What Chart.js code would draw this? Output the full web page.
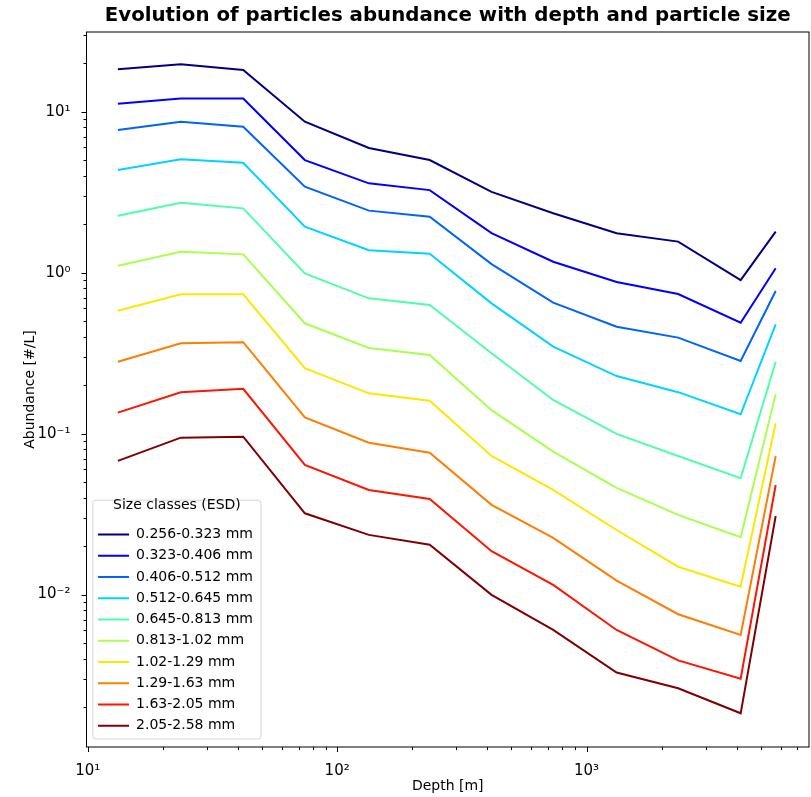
<!DOCTYPE html>
<html>
<head>
<meta charset="utf-8">
<script src="https://cdn.jsdelivr.net/npm/chart.js@4.4.1/dist/chart.umd.min.js"></script>
<style>
  html, body { margin: 0; padding: 0; background: #fff; }
  #wrap { width: 811px; height: 797px; position: relative; }
</style>
</head>
<body>
<div id="wrap"><canvas id="chart-abundance"></canvas></div>
<script>
// sampling depths [m]
const depth = [13.2, 23.6, 42.0, 74.2, 134, 235, 416, 735, 1320, 2330, 4150, 5735];

// abundance [#/L] per size class
const abund_0256_0323 = [18.4, 19.7, 18.2, 8.67, 5.95, 5.01, 3.18, 2.34, 1.76, 1.56, 0.90, 1.80];
const abund_0323_0406 = [11.2, 12.1, 12.1, 5.01, 3.59, 3.26, 1.76, 1.17, 0.876, 0.737, 0.489, 1.065];
const abund_0406_0512 = [7.70, 8.67, 8.07, 3.42, 2.43, 2.23, 1.13, 0.651, 0.462, 0.395, 0.283, 0.770];
const abund_0512_0645 = [4.34, 5.06, 4.82, 1.93, 1.38, 1.31, 0.645, 0.347, 0.228, 0.181, 0.132, 0.478];
const abund_0645_0813 = [2.26, 2.72, 2.51, 0.991, 0.693, 0.630, 0.316, 0.162, 0.0996, 0.0727, 0.0528, 0.280];
const abund_0813_102 = [1.105, 1.35, 1.30, 0.485, 0.341, 0.308, 0.140, 0.0773, 0.0460, 0.0313, 0.0227, 0.176];
const abund_102_129 = [0.581, 0.734, 0.734, 0.255, 0.178, 0.160, 0.0727, 0.0447, 0.0252, 0.0149, 0.0112, 0.116];
const abund_129_163 = [0.280, 0.364, 0.370, 0.126, 0.0879, 0.0762, 0.0361, 0.0225, 0.0122, 0.00755, 0.00562, 0.0727];
const abund_163_205 = [0.135, 0.181, 0.190, 0.0639, 0.0447, 0.0393, 0.0186, 0.0115, 0.00603, 0.00390, 0.00300, 0.0480];
const abund_205_258 = [0.0677, 0.0944, 0.0958, 0.0320, 0.0235, 0.0204, 0.00996, 0.00603, 0.00328, 0.00262, 0.00183, 0.0308];

const sizeClasses = [
  "0.256-0.323 mm", "0.323-0.406 mm", "0.406-0.512 mm", "0.512-0.645 mm", "0.645-0.813 mm",
  "0.813-1.02 mm", "1.02-1.29 mm", "1.29-1.63 mm", "1.63-2.05 mm", "2.05-2.58 mm",
];
const series = [
  abund_0256_0323, abund_0323_0406, abund_0406_0512, abund_0512_0645, abund_0645_0813,
  abund_0813_102, abund_102_129, abund_129_163, abund_163_205, abund_205_258,
];

// axis ticks
const xMajor = [10, 100, 1000];
const xMajorLabels = ["10\u00b9", "10\u00b2", "10\u00b3"];
const yMajor = [0.01, 0.1, 1, 10];
const yMajorLabels = ["10\u207b\u00b2", "10\u207b\u00b9", "10\u2070", "10\u00b9"];

// jet colormap, 10 samples
const jetColors = [
  "#000080", "#0000ff", "#0063ff", "#00d4ff", "#4effa9",
  "#a9ff4e", "#ffe600", "#ff7d00", "#ff1400", "#800000",
];

const FONT = "'DejaVu Sans', sans-serif";

/** 로그 축 눈금 (주 + 보조) */
function logTicks(scale, majors) {
  const out = [];
  const lo = Math.floor(Math.log10(scale.min));
  const hi = Math.ceil(Math.log10(scale.max));
  for (let e = lo; e <= hi; e++) {
    for (let k = 1; k <= 9; k++) {
      const v = k * Math.pow(10, e);
      if (v < scale.min || v > scale.max) continue;
      const isMajor = majors.some((m) => Math.abs(m - v) / m < 1e-6);
      out.push({ value: v, major: isMajor });
    }
  }
  scale.ticks = out;
}

function majorLabel(value, majors, labels) {
  const i = majors.findIndex((m) => Math.abs(m - value) / m < 1e-6);
  return i >= 0 ? labels[i] : "";
}

const axesPlugin = {
  id: "axesFrame",
  afterLayout(chart) {
    // 범례: 축 영역 좌하단 안쪽에 배치
    const lg = chart.legend;
    const a = chart.chartArea;
    if (!lg || !a) return;
    lg.left = a.left + 4.3;
    lg.right = lg.left + lg.width;
    lg.top = a.top;
    lg.bottom = a.bottom - 7;
  },
  beforeDraw(chart) {
    const lg = chart.legend;
    if (!lg || !lg.columnSizes || !lg.columnSizes.length) return;
    const ctx = chart.ctx;
    const colH = lg.columnSizes[0].height;
    const y0 = lg.bottom - colH;
    const titleH = lg._computeTitleHeight();
    const x1 = lg.left + 2;
    const x2 = lg.left + lg.width - 2;
    const y1 = y0 - titleH - 5.5;
    const y2 = lg.bottom - 1;
    const r = 3;
    ctx.save();
    ctx.beginPath();
    ctx.moveTo(x1 + r, y1);
    ctx.arcTo(x2, y1, x2, y2, r);
    ctx.arcTo(x2, y2, x1, y2, r);
    ctx.arcTo(x1, y2, x1, y1, r);
    ctx.arcTo(x1, y1, x2, y1, r);
    ctx.closePath();
    ctx.fillStyle = "rgba(255,255,255,0.8)";
    ctx.fill();
    ctx.strokeStyle = "#d6d6d6";
    ctx.lineWidth = 1;
    ctx.stroke();
    ctx.restore();
  },
  afterDraw(chart) {
    const { ctx, chartArea: a } = chart;
    const xs = chart.scales.x;
    const ys = chart.scales.y;
    ctx.save();
    ctx.strokeStyle = "#000";
    ctx.lineWidth = 1;
    ctx.strokeRect(a.left, a.top, a.right - a.left, a.bottom - a.top);
    ctx.beginPath();
    xs.ticks.forEach((t) => {
      const px = Math.round(xs.getPixelForValue(t.value)) + 0.5;
      const len = t.major ? 5 : 3;
      ctx.moveTo(px, a.bottom);
      ctx.lineTo(px, a.bottom + len);
    });
    ys.ticks.forEach((t) => {
      const py = Math.round(ys.getPixelForValue(t.value)) + 0.5;
      const len = t.major ? 5 : 3;
      ctx.moveTo(a.left, py);
      ctx.lineTo(a.left - len, py);
    });
    ctx.stroke();
    ctx.restore();
  },
};

const datasets = series.map((vals, i) => ({
  label: sizeClasses[i],
  data: depth.map((d, j) => ({ x: d, y: vals[j] })),
  borderColor: jetColors[i],
  backgroundColor: jetColors[i],
  borderWidth: 2,
  pointRadius: 0,
  tension: 0,
  fill: false,
}));

const ctx = document.getElementById("chart-abundance").getContext("2d");
new Chart(ctx, {
  type: "line",
  data: { datasets },
  plugins: [axesPlugin],
  options: {
    responsive: true,
    maintainAspectRatio: false,
    animation: false,
    layout: { padding: { left: 0, right: 2, top: 0, bottom: 0 } },
    scales: {
      x: {
        type: "logarithmic",
        min: 9.88,
        max: 7800,
        bounds: "data",
        afterBuildTicks: (s) => logTicks(s, xMajor),
        afterFit: (s) => { s.height = 50; },
        grid: { display: false },
        border: { display: false },
        ticks: {
          autoSkip: false,
          maxRotation: 0,
          padding: 7,
          color: "#000",
          font: { family: FONT, size: 15 },
          callback: (v) => majorLabel(v, xMajor, xMajorLabels),
        },
        title: {
          display: true,
          text: "Depth [m]",
          color: "#000",
          font: { family: FONT, size: 14 },
          padding: { top: 0, bottom: 2 },
        },
      },
      y: {
        type: "logarithmic",
        min: 0.00113,
        max: 31.3,
        bounds: "data",
        afterBuildTicks: (s) => logTicks(s, yMajor),
        afterFit: (s) => { s.width = 86.5; },
        grid: { display: false },
        border: { display: false },
        ticks: {
          autoSkip: false,
          padding: 8,
          color: "#000",
          font: { family: FONT, size: 15 },
          callback: (v) => majorLabel(v, yMajor, yMajorLabels),
        },
        title: {
          display: true,
          text: "Abundance [#/L]",
          color: "#000",
          font: { family: FONT, size: 14 },
          padding: { top: 21.6, bottom: 0 },
        },
      },
    },
    plugins: {
      title: {
        display: true,
        fullSize: false,
        text: "Evolution of particles abundance with depth and particle size",
        color: "#000",
        font: { family: FONT, size: 19.8, weight: "bold", lineHeight: 1.2 },
        padding: { top: 4, bottom: 4.24 },
      },
      legend: {
        position: "chartArea",
        align: "end",
        labels: {
          boxWidth: 31,
          boxHeight: 2,
          padding: 7.25,
          color: "#000",
          font: { family: FONT, size: 14 },
          generateLabels: (chart) =>
            chart.data.datasets.map((ds, i) => ({
              text: ds.label,
              fillStyle: ds.borderColor,
              strokeStyle: ds.borderColor,
              lineWidth: 0,
              hidden: false,
              datasetIndex: i,
            })),
        },
        title: {
          display: true,
          text: "Size classes (ESD)",
          color: "#000",
          font: { family: FONT, size: 14 },
          padding: { top: 0, bottom: 5 },
        },
      },
      tooltip: { enabled: false },
    },
  },
});
</script>
</body>
</html>
